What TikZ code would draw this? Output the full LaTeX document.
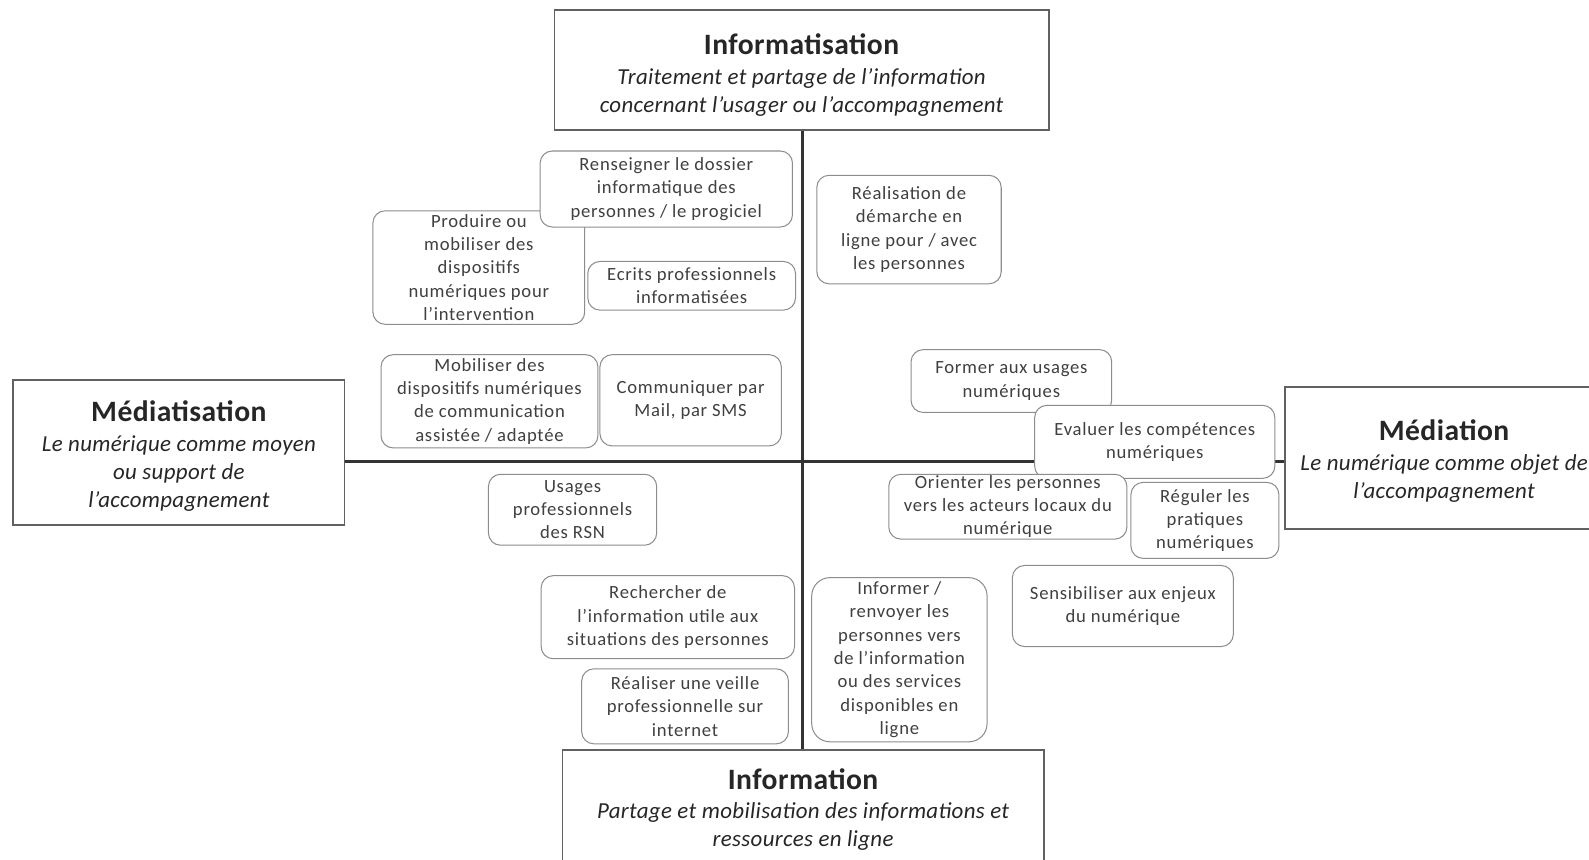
\documentclass[tikz,border=0pt]{standalone}
\usepackage{fontspec}
\setmainfont{Carlito}
\newfontfamily\sbfont{Carlito}[LetterSpace=4,Ligatures=TeX]
\newfontfamily\bgfont{Carlito}[LetterSpace=1.5,Ligatures=TeX]
\begin{document}
\begin{tikzpicture}[x=0.5pt,y=-0.5pt,
  bigbox/.style={draw=black!62, line width=0.8pt, fill=white, inner sep=0pt},
  bigtext/.style={inner sep=0pt, align=center, text=black!85,
    font=\bgfont\fontsize{11.3}{13.8}\selectfont\itshape},
  sbox/.style={draw=black!45, line width=0.5pt, rounded corners=6pt, fill=white, inner sep=0pt,
    align=center, text=black!75, font=\sbfont\fontsize{9.2}{11.5}\selectfont},
  axisline/.style={draw=black!80, line width=1.4pt}]
\newcommand{\bigttl}[1]{{\fontsize{14.6}{15}\selectfont\upshape\bfseries #1}\\[0.6pt]}
\useasboundingbox (0,0) rectangle (1568,848);
\clip (0,0) rectangle (1568,848);
% big boxes
\node[bigbox, minimum width=244pt, minimum height=59pt] (T) at (791,69) {};
\node[bigtext] (Tt) at (791,74)
  {\bigttl{Informatisation}Traitement et partage de l'information\\concernant l'usager ou l'accompagnement};
\node[bigbox, minimum width=163.5pt, minimum height=71.5pt] (L) at (176.5,446.5) {};
\node[bigtext] (Lt) at (176.5,450)
  {\bigttl{Médiatisation}Le numérique comme moyen\\ou support de\\l'accompagnement};
\node[bigbox, minimum width=157pt, minimum height=70pt] (R) at (1425,452) {};
\node[bigtext] (Rt) at (1425,455)
  {\bigttl{Médiation}Le numérique comme objet de\\l'accompagnement};
\node[bigbox, minimum width=237.5pt, minimum height=59pt] (B) at (792.5,799) {};
\node[bigtext] (Bt) at (792.5,799)
  {\bigttl{Information}Partage et mobilisation des informations et\\ressources en ligne};
% axes
\coordinate (vc) at (792,455);
\draw[axisline] (T.south -| vc) -- (B.north -| vc);
\draw[axisline] (L.east |- vc) -- (R.west |- vc);
% small boxes
\node[sbox, minimum width=104.5pt, minimum height=56pt] (n2) at (472.5,264)
  {Produire ou\\mobiliser des\\dispositifs\\numériques pour\\l'intervention};
\node[sbox, minimum width=124.5pt, minimum height=37.5pt] (n1) at (657.5,186.5)
  {Renseigner le dossier\\informatique des\\personnes / le progiciel};
\node[sbox, minimum width=102.5pt, minimum height=24pt] (n3) at (682.5,282)
  {Ecrits professionnels\\informatisées};
\node[sbox, minimum width=91pt, minimum height=53.5pt] (n4) at (897,226.5)
  {Réalisation de\\démarche en\\ligne pour / avec\\les personnes};
\node[sbox, minimum width=107pt, minimum height=46pt] (n5) at (483,396)
  {Mobiliser des\\dispositifs numériques\\de communication\\assistée / adaptée};
\node[sbox, minimum width=89.5pt, minimum height=45pt] (n6) at (681.5,395)
  {Communiquer par\\Mail, par SMS};
\node[sbox, minimum width=83pt, minimum height=35pt] (n7) at (565,503)
  {Usages\\professionnels\\des RSN};
\node[sbox, minimum width=99pt, minimum height=31pt] (n8) at (998,376)
  {Former aux usages\\numériques};
\node[sbox, minimum width=118.5pt, minimum height=36pt] (n9) at (1139.5,436)
  {Evaluer les compétences\\numériques};
\node[sbox, minimum width=117.5pt, minimum height=32pt] (n10) at (994.5,500)
  {Orienter les personnes\\vers les acteurs locaux du\\numérique};
\node[sbox, minimum width=73pt, minimum height=37.5pt] (n11) at (1189,513.5)
  {Réguler les\\pratiques\\numériques};
\node[sbox, minimum width=125pt, minimum height=41pt] (n12) at (659,609)
  {Rechercher de\\l'information utile aux\\situations des personnes};
\node[sbox, minimum width=102pt, minimum height=37pt] (n13) at (676,697)
  {Réaliser une veille\\professionnelle sur\\internet};
\node[sbox, minimum width=86.5pt, minimum height=81pt, rounded corners=9pt] (n14) at (887.5,651)
  {Informer /\\renvoyer les\\personnes vers\\de l'information\\ou des services\\disponibles en\\ligne};
\node[sbox, minimum width=109pt, minimum height=40pt] (n15) at (1108,598)
  {Sensibiliser aux enjeux\\du numérique};
\end{tikzpicture}
\end{document}
